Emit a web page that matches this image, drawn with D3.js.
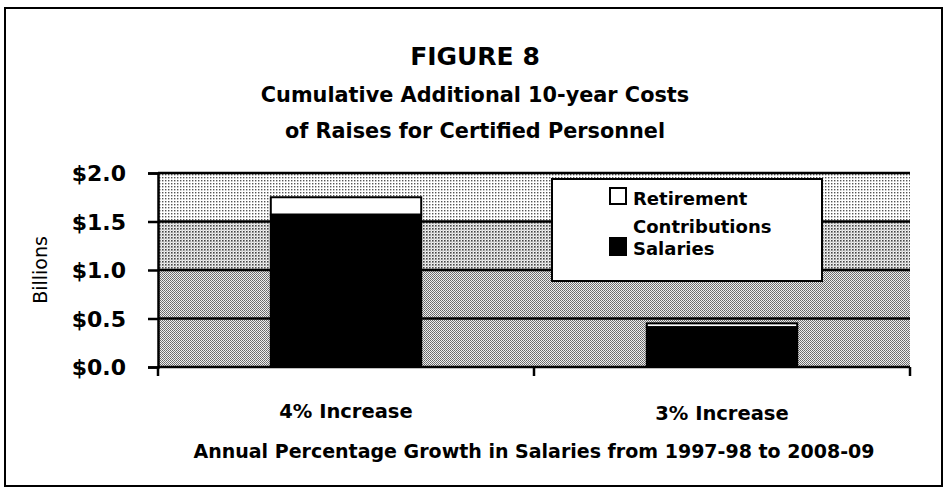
<!DOCTYPE html>
<html>
<head>
<meta charset="utf-8">
<script src="https://cdn.jsdelivr.net/npm/d3@7"></script>
<style>
  body { margin: 0; background: #fff; }
  text { font-family: "DejaVu Sans", sans-serif; fill: #000; }
</style>
</head>
<body>
<svg id="chart" width="945" height="492"></svg>
<script>
// Data (billions of dollars)
const categories = ["4% Increase", "3% Increase"];
const salaries = [1.57, 0.41];
const retirement = [0.18, 0.04];
const yTicks = [0, 0.5, 1.0, 1.5, 2.0];
const seriesNames = ["Retirement Contributions", "Salaries"];

const titleLines = [
  "FIGURE 8",
  "Cumulative Additional 10-year Costs",
  "of Raises for Certified Personnel"
];
const yTitle = "Billions";
const xTitle = "Annual Percentage Growth in Salaries from 1997-98 to 2008-09";

const svg = d3.select("#chart");

// Plot area
const plotLeft = 158, plotRight = 910, plotTop = 173, plotBottom = 367;

const x = d3.scaleBand()
  .domain(categories)
  .range([plotLeft, plotRight])
  .paddingInner(0.6)
  .paddingOuter(0.3);

const y = d3.scaleLinear()
  .domain([0, 2])
  .range([plotBottom, plotTop]);

// outer frame
svg.append("rect")
  .attr("x", 5).attr("y", 8)
  .attr("width", 937).attr("height", 478)
  .attr("fill", "#fff")
  .attr("stroke", "#000")
  .attr("stroke-width", 2);

// stipple patterns for the plot background bands
const defs = svg.append("defs");

const sparse = defs.append("pattern")
  .attr("id", "sparse")
  .attr("width", 3).attr("height", 3)
  .attr("patternUnits", "userSpaceOnUse");
sparse.append("rect").attr("width", 3).attr("height", 3).attr("fill", "#fff");
sparse.append("rect").attr("width", 1.4).attr("height", 1.4).attr("fill", "#555");

const medium = defs.append("pattern")
  .attr("id", "medium")
  .attr("width", 3).attr("height", 3)
  .attr("patternUnits", "userSpaceOnUse");
medium.append("rect").attr("width", 3).attr("height", 3).attr("fill", "#f2f2f2");
medium.append("rect").attr("width", 1.6).attr("height", 1.6).attr("fill", "#444");
medium.append("rect").attr("x", 1.5).attr("y", 1.5).attr("width", 1).attr("height", 1).attr("fill", "#999");

const dense = defs.append("pattern")
  .attr("id", "dense")
  .attr("width", 2).attr("height", 2)
  .attr("patternUnits", "userSpaceOnUse");
dense.append("rect").attr("width", 2).attr("height", 2).attr("fill", "#eee");
dense.append("rect").attr("width", 1).attr("height", 1).attr("fill", "#666");
dense.append("rect").attr("x", 1).attr("y", 1).attr("width", 1).attr("height", 1).attr("fill", "#777");

const bandFill = ["url(#dense)", "url(#dense)", "url(#medium)", "url(#sparse)"];

svg.append("g")
  .selectAll("rect")
  .data(d3.pairs(yTicks))
  .join("rect")
  .attr("x", plotLeft)
  .attr("y", d => y(d[1]))
  .attr("width", plotRight - plotLeft)
  .attr("height", d => y(d[0]) - y(d[1]))
  .attr("fill", (d, i) => bandFill[i])
  .attr("shape-rendering", "crispEdges");

// gridlines
svg.append("g")
  .selectAll("line")
  .data(yTicks.slice(1))
  .join("line")
  .attr("x1", plotLeft).attr("x2", plotRight)
  .attr("y1", d => y(d)).attr("y2", d => y(d))
  .attr("stroke", "#000")
  .attr("stroke-width", 2.5);

// stacked bars
const stacked = categories.map((c, i) => ({ cat: c, sal: salaries[i], ret: retirement[i] }));

const bars = svg.append("g")
  .selectAll("g")
  .data(stacked)
  .join("g");

bars.append("rect")
  .attr("x", d => x(d.cat))
  .attr("width", x.bandwidth())
  .attr("y", d => y(d.sal + d.ret))
  .attr("height", d => y(d.sal) - y(d.sal + d.ret))
  .attr("fill", "#fff")
  .attr("stroke", "#000")
  .attr("stroke-width", 2);

bars.append("rect")
  .attr("x", d => x(d.cat))
  .attr("width", x.bandwidth())
  .attr("y", d => y(d.sal))
  .attr("height", d => y(0) - y(d.sal))
  .attr("fill", "#000")
  .attr("stroke", "#000")
  .attr("stroke-width", 2);

// y axis
const yAxis = svg.append("g")
  .attr("transform", `translate(${plotLeft},0)`)
  .call(d3.axisLeft(y)
    .tickValues(yTicks)
    .tickSize(10)
    .tickPadding(22)
    .tickFormat(d => "$" + d.toFixed(1)));
yAxis.select(".domain").attr("stroke-width", 2.5);
yAxis.selectAll(".tick line").attr("stroke-width", 2.5);
yAxis.selectAll(".tick text")
  .attr("font-family", "DejaVu Sans")
  .attr("font-size", 22)
  .attr("font-weight", "bold")
  .attr("dy", "0.36em");

// x axis: ticks at category boundaries
const xAxis = svg.append("g");
xAxis.append("line")
  .attr("x1", plotLeft).attr("x2", plotRight)
  .attr("y1", plotBottom).attr("y2", plotBottom)
  .attr("stroke", "#000")
  .attr("stroke-width", 2.5);
const edges = [plotLeft].concat(categories.map(c => x(c) - x.step() * x.paddingInner() / 2 + x.step()));
xAxis.selectAll(".edge")
  .data(edges)
  .join("line")
  .attr("class", "edge")
  .attr("x1", d => d).attr("x2", d => d)
  .attr("y1", plotBottom).attr("y2", plotBottom + 9)
  .attr("stroke", "#000")
  .attr("stroke-width", 2.5);
xAxis.selectAll(".cat")
  .data(categories)
  .join("text")
  .attr("class", "cat")
  .attr("x", d => x(d) + x.bandwidth() / 2)
  .attr("y", (d, i) => 418 + i * 2)
  .attr("text-anchor", "middle")
  .attr("font-size", 19.5)
  .attr("font-weight", "bold")
  .text(d => d);

// titles
svg.append("g")
  .selectAll("text")
  .data(titleLines)
  .join("text")
  .attr("x", 475)
  .attr("y", (d, i) => [65, 102, 138][i])
  .attr("text-anchor", "middle")
  .attr("font-size", (d, i) => i === 0 ? 25 : 20.8)
  .attr("font-weight", "bold")
  .text(d => d);

svg.append("text")
  .attr("transform", `translate(47,${(plotTop + plotBottom) / 2}) rotate(-90)`)
  .attr("text-anchor", "middle")
  .attr("font-size", 19)
  .text(yTitle);

svg.append("text")
  .attr("x", (plotLeft + plotRight) / 2)
  .attr("y", 458)
  .attr("text-anchor", "middle")
  .attr("font-size", 19)
  .attr("font-weight", "bold")
  .text(xTitle);

// legend
const legend = svg.append("g").attr("transform", "translate(552,179)");
legend.append("rect")
  .attr("width", 270).attr("height", 102)
  .attr("fill", "#fff")
  .attr("stroke", "#000")
  .attr("stroke-width", 2);

const retWords = seriesNames[0].split(" ");
legend.append("rect")
  .attr("x", 58).attr("y", 9)
  .attr("width", 16).attr("height", 16)
  .attr("fill", "#fff").attr("stroke", "#000").attr("stroke-width", 2);
legend.append("text")
  .attr("x", 81).attr("y", 26)
  .attr("font-size", 18).attr("font-weight", "bold")
  .selectAll("tspan")
  .data(retWords)
  .join("tspan")
  .attr("x", 81)
  .attr("dy", (d, i) => i === 0 ? 0 : 28)
  .text(d => d);

legend.append("rect")
  .attr("x", 57).attr("y", 58)
  .attr("width", 18).attr("height", 19)
  .attr("fill", "#000");
legend.append("text")
  .attr("x", 81).attr("y", 76)
  .attr("font-size", 18).attr("font-weight", "bold")
  .text(seriesNames[1]);
</script>
</body>
</html>
